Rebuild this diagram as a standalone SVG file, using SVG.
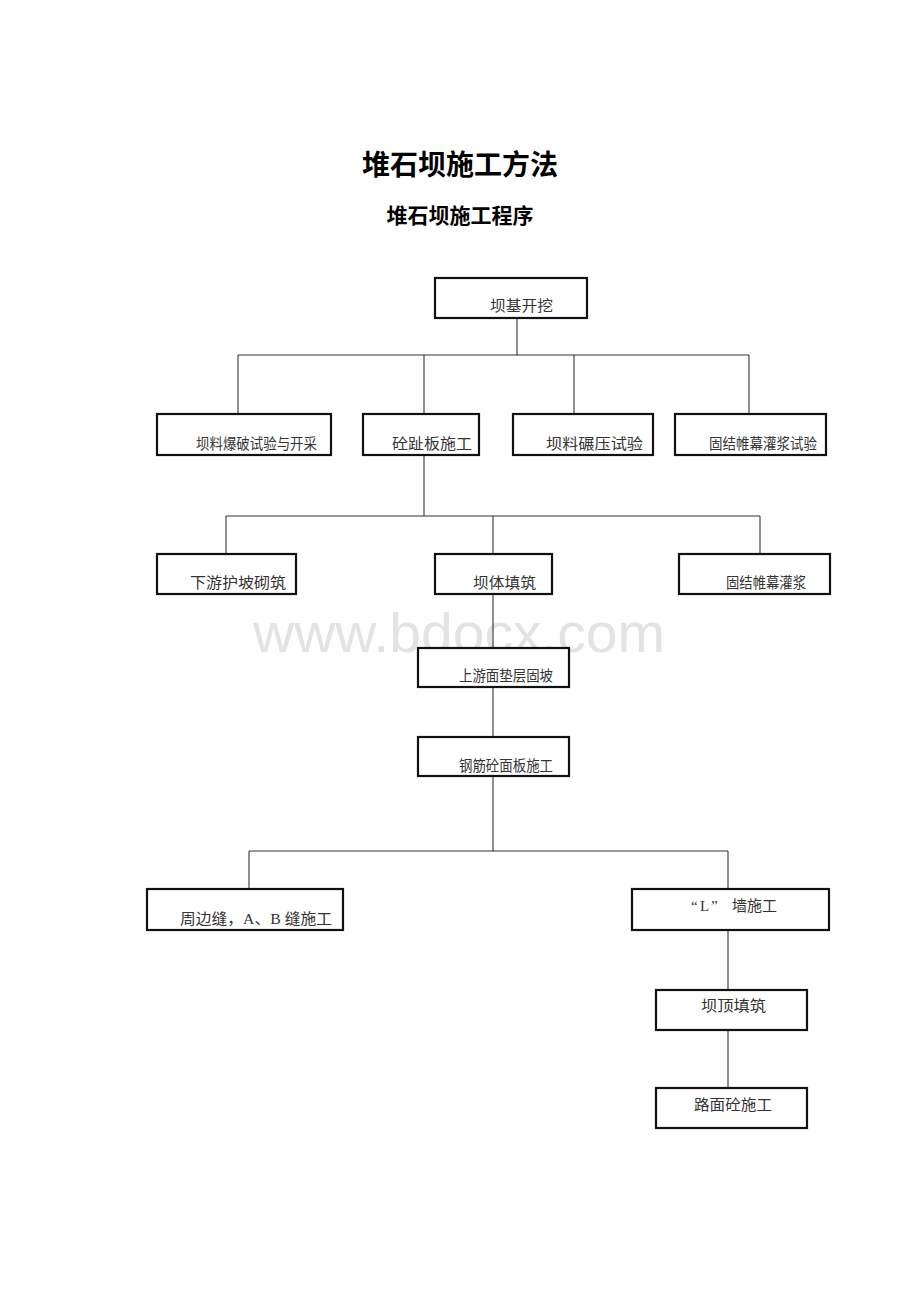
<svg xmlns="http://www.w3.org/2000/svg" width="920" height="1302" viewBox="0 0 920 1302">
<style>
.bg{fill:#fff}
.box{fill:#fff;stroke:#111;stroke-width:2.2}
.lbl{font-family:"Liberation Serif","Noto Sans CJK SC",serif;font-size:15px;fill:#333}
.ttl{font-family:"Liberation Serif","Noto Sans CJK SC",serif;font-weight:bold;fill:#000;text-anchor:middle}
.wm{font-family:"Liberation Sans",Arial,sans-serif;font-size:56px;fill:#e3e3e3;text-anchor:middle}
#connectors line{stroke:#333;stroke-width:1.1}
</style>
<rect class="bg" x="0" y="0" width="920" height="1302"/>
<text class="wm" x="459" y="652" textLength="412" lengthAdjust="spacingAndGlyphs">www.bdocx.com</text>
<text class="ttl" x="460" y="175" font-size="28">堆石坝施工方法</text>
<text class="ttl" x="460" y="223" font-size="21">堆石坝施工程序</text>
<g id="connectors">
<line x1="517" y1="318" x2="517" y2="355"/>
<line x1="238" y1="355" x2="749" y2="355"/>
<line x1="238" y1="355" x2="238" y2="414"/>
<line x1="424" y1="355" x2="424" y2="414"/>
<line x1="574" y1="355" x2="574" y2="414"/>
<line x1="749" y1="355" x2="749" y2="414"/>
<line x1="424" y1="455" x2="424" y2="516"/>
<line x1="226" y1="516" x2="760" y2="516"/>
<line x1="226" y1="516" x2="226" y2="554"/>
<line x1="493" y1="516" x2="493" y2="554"/>
<line x1="760" y1="516" x2="760" y2="554"/>
<line x1="493" y1="594" x2="493" y2="648"/>
<line x1="493" y1="687" x2="493" y2="737"/>
<line x1="493" y1="776" x2="493" y2="851"/>
<line x1="249" y1="851" x2="728" y2="851"/>
<line x1="249" y1="851" x2="249" y2="889"/>
<line x1="728" y1="851" x2="728" y2="889"/>
<line x1="728" y1="930" x2="728" y2="990"/>
<line x1="728" y1="1030" x2="728" y2="1088"/>
</g>
<g id="n1"><rect class="box" x="435" y="278" width="152" height="40"/><text class="lbl" x="490" y="311" textLength="63" lengthAdjust="spacingAndGlyphs">坝基开挖</text></g>
<g id="n2"><rect class="box" x="157" y="414" width="174" height="41"/><text class="lbl" x="196" y="449" textLength="121" lengthAdjust="spacingAndGlyphs">坝料爆破试验与开采</text></g>
<g id="n3"><rect class="box" x="363" y="414" width="116" height="41"/><text class="lbl" x="392" y="449" textLength="80" lengthAdjust="spacingAndGlyphs">砼趾板施工</text></g>
<g id="n4"><rect class="box" x="513" y="414" width="140" height="41"/><text class="lbl" x="546" y="449" textLength="97" lengthAdjust="spacingAndGlyphs">坝料碾压试验</text></g>
<g id="n5"><rect class="box" x="675" y="414" width="151" height="41"/><text class="lbl" x="709" y="449" textLength="108" lengthAdjust="spacingAndGlyphs">固结帷幕灌浆试验</text></g>
<g id="n6"><rect class="box" x="157" y="554" width="139" height="40"/><text class="lbl" x="190" y="588" textLength="96" lengthAdjust="spacingAndGlyphs">下游护坡砌筑</text></g>
<g id="n7"><rect class="box" x="435" y="554" width="117" height="40"/><text class="lbl" x="473" y="588" textLength="63" lengthAdjust="spacingAndGlyphs">坝体填筑</text></g>
<g id="n8"><rect class="box" x="679" y="554" width="151" height="40"/><text class="lbl" x="726" y="588" textLength="80" lengthAdjust="spacingAndGlyphs">固结帷幕灌浆</text></g>
<g id="n9"><rect class="box" x="418" y="648" width="151" height="39"/><text class="lbl" x="459" y="681" textLength="94" lengthAdjust="spacingAndGlyphs">上游面垫层固坡</text></g>
<g id="n10"><rect class="box" x="418" y="737" width="151" height="39"/><text class="lbl" x="459" y="771" textLength="94" lengthAdjust="spacingAndGlyphs">钢筋砼面板施工</text></g>
<g id="n11"><rect class="box" x="147" y="889" width="196" height="41"/><text class="lbl" x="180" y="924" textLength="152" lengthAdjust="spacingAndGlyphs">周边缝，A、B 缝施工</text></g>
<g id="n12"><rect class="box" x="632" y="889" width="197" height="41"/><text class="lbl" y="911" font-size="17.5"><tspan x="691">“</tspan><tspan x="700">L</tspan><tspan x="711">”</tspan><tspan x="732">墙施工</tspan></text></g>
<g id="n13"><rect class="box" x="656" y="990" width="151" height="40"/><text class="lbl" x="701" y="1011" textLength="65" lengthAdjust="spacingAndGlyphs">坝顶填筑</text></g>
<g id="n14"><rect class="box" x="656" y="1088" width="151" height="40"/><text class="lbl" x="694" y="1110" textLength="78" lengthAdjust="spacingAndGlyphs">路面砼施工</text></g>
</svg>
